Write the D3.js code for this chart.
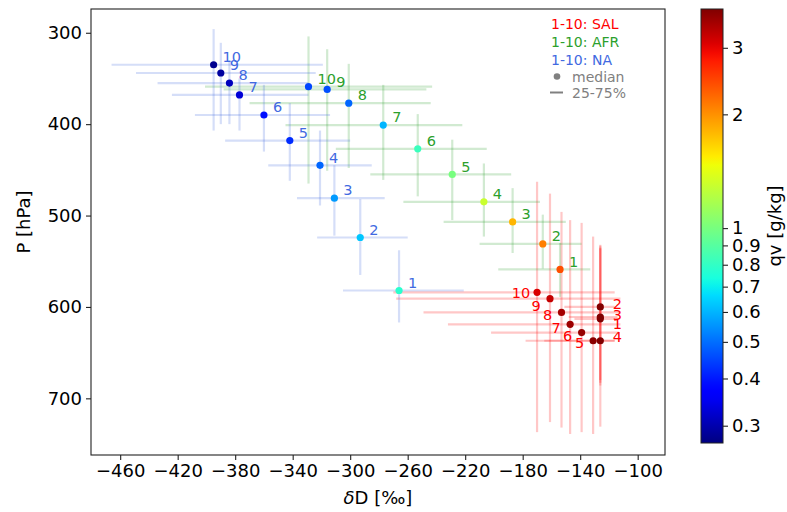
<!DOCTYPE html>
<html>
<head>
<meta charset="UTF-8">
<title>dD vs P</title>
<style>
  body { margin: 0; background: #fff; }
  svg { display: block; font-family: "DejaVu Sans", sans-serif; }
</style>
</head>
<body>
<svg id="chart"></svg>
<script src="https://d3js.org/d3.v7.min.js"></script>
<script>
const width = 787, height = 512;

// levels 1..10 for each region
const levels = [1, 2, 3, 4, 5, 6, 7, 8, 9, 10];

// SAL
const salDD   = [-126, -126, -126, -126, -131, -139, -147, -153, -161, -170];
const salDD25 = [-144, -151, -148, -165, -178, -202, -232, -249, -268, -270];
const salDD75 = [-114, -116, -114, -116, -116, -113, -112, -112, -112, -116];
const salP     = [613, 600, 611, 637, 637, 628, 619, 606, 591, 584];
const salP25   = [536, 533, 535, 532, 523, 508, 505, 496, 476, 463];
const salP75   = [683, 686, 680, 731, 739, 737, 739, 732, 726, 737];
const salQv    = [3.8, 3.78, 3.8, 3.8, 3.7, 3.6, 3.55, 3.5, 3.25, 3.1];

// AFR
const afrDD   = [-154, -166, -187, -207, -229, -253, -277, -301, -316, -329];
const afrDD25 = [-197, -210, -235, -263, -286, -310, -345, -370, -388, -401];
const afrDD75 = [-133, -139, -150, -168, -188, -205, -222, -244, -247, -243];
const afrP     = [559, 531, 507, 485, 455, 427, 401, 377, 362, 359];
const afrP25   = [530, 499, 470, 443, 417, 389, 357, 334, 318, 304];
const afrP75   = [589, 558, 541, 523, 505, 479, 461, 448, 451, 465];
const afrQv    = [2.4, 2.1, 1.8, 1.3, 1.0, 0.82, 0.6, 0.49, 0.46, 0.45];

// NA
const naDD   = [-266, -293, -311, -321, -342, -360, -377, -384, -390, -395];
const naDD25 = [-305, -323, -337, -357, -387, -408, -424, -434, -449, -466];
const naDD75 = [-221, -260, -276, -285, -300, -314, -329, -329, -324, -319];
const naP     = [582, 524, 481, 445, 418, 390, 368, 355, 344, 335];
const naP25   = [538, 482, 445, 407, 377, 357, 350, 330, 311, 296];
const naP75   = [617, 565, 522, 489, 462, 430, 407, 400, 400, 407];
const naQv    = [0.78, 0.63, 0.56, 0.49, 0.42, 0.39, 0.33, 0.31, 0.29, 0.28];

const xTicks = [-460, -420, -380, -340, -300, -260, -220, -180, -140, -100];
const yTicks = [300, 400, 500, 600, 700];
const cbTicks = [0.3, 0.4, 0.5, 0.6, 0.7, 0.8, 0.9, 1, 2, 3];
const legendLabels = ["1-10: SAL", "1-10: AFR", "1-10: NA"];

// label nudges for the crowded SAL cluster (px)
const salLabelNudge = [[17, 5], [17, -3.5], [17, -2], [17, -4], [-13.5, 2],
                       [-14, 3], [-14, 3], [-14, 2.5], [-14, 7], [-16, 0]];

const plot = { left: 91, right: 665, top: 9, bottom: 455 };
const cb = { left: 701, right: 723, top: 9, bottom: 443 };
const fs = 18;

const x = d3.scaleLinear().domain([-480.3, -81]).range([plot.left, plot.right]);
const y = d3.scaleLinear().domain([274, 762]).range([plot.top, plot.bottom]);

// matplotlib jet
const jr = d3.scaleLinear().domain([0, 0.35, 0.66, 0.89, 1]).range([0, 0, 1, 1, 0.5]).clamp(true);
const jg = d3.scaleLinear().domain([0, 0.125, 0.375, 0.64, 0.91, 1]).range([0, 0, 1, 1, 0, 0]).clamp(true);
const jb = d3.scaleLinear().domain([0, 0.11, 0.34, 0.65, 1]).range([0.5, 1, 1, 0, 0]).clamp(true);
const jet = t => d3.rgb(jr(t) * 255, jg(t) * 255, jb(t) * 255).formatHex();
const qvNorm = d3.scaleLog().domain([0.27, 3.8]).range([0, 1]).clamp(true);
const qvColor = v => jet(qvNorm(v));

const svg = d3.select("#chart").attr("width", width).attr("height", height);

// axes frame
const xAxis = d3.axisBottom(x).tickValues(xTicks).tickSize(5).tickPadding(4).tickFormat(d3.format("d"));
const yAxis = d3.axisLeft(y).tickValues(yTicks).tickSize(5).tickPadding(4);

const gx = svg.append("g").attr("transform", `translate(0,${plot.bottom})`).call(xAxis);
const gy = svg.append("g").attr("transform", `translate(${plot.left},0)`).call(yAxis);
[gx, gy].forEach(g => {
  g.select(".domain").remove();
  g.selectAll("text").attr("font-size", fs).attr("font-family", "DejaVu Sans").attr("fill", "#000");
  g.selectAll("line").attr("stroke", "#222").attr("stroke-width", 1.1);
});

svg.append("rect")
  .attr("x", plot.left).attr("y", plot.top)
  .attr("width", plot.right - plot.left).attr("height", plot.bottom - plot.top)
  .attr("fill", "none").attr("stroke", "#222").attr("stroke-width", 1.1);

// axis labels
const xl = svg.append("text")
  .attr("x", (plot.left + plot.right) / 2).attr("y", 504)
  .attr("text-anchor", "middle").attr("font-size", fs);
xl.append("tspan").attr("font-style", "italic").text("δ");
xl.append("tspan").text("D [‰]");

svg.append("text")
  .attr("transform", "translate(30,222) rotate(-90)")
  .attr("text-anchor", "middle").attr("font-size", fs)
  .text("P [hPa]");

// series
const series = [
  { dd: salDD, dd25: salDD25, dd75: salDD75, p: salP, p25: salP25, p75: salP75, qv: salQv, color: "#ff0000", nudge: salLabelNudge },
  { dd: afrDD, dd25: afrDD25, dd75: afrDD75, p: afrP, p25: afrP25, p75: afrP75, qv: afrQv, color: "#2ca02c" },
  { dd: naDD, dd25: naDD25, dd75: naDD75, p: naP, p25: naP25, p75: naP75, qv: naQv, color: "#4169e1" }
];

const plotG = svg.append("g");

series.forEach(s => {
  const g = plotG.append("g");
  levels.forEach((lev, i) => {
    g.append("line")
      .attr("x1", x(s.dd25[i])).attr("x2", x(s.dd75[i]))
      .attr("y1", y(s.p[i])).attr("y2", y(s.p[i]))
      .attr("stroke", s.color).attr("stroke-opacity", 0.22).attr("stroke-width", 2.2);
    g.append("line")
      .attr("x1", x(s.dd[i])).attr("x2", x(s.dd[i]))
      .attr("y1", y(s.p25[i])).attr("y2", y(s.p75[i]))
      .attr("stroke", s.color).attr("stroke-opacity", 0.22).attr("stroke-width", 2.2);
  });
  g.selectAll("circle")
    .data(levels)
    .enter().append("circle")
    .attr("cx", (d, i) => x(s.dd[i]))
    .attr("cy", (d, i) => y(s.p[i]))
    .attr("r", 3.6)
    .attr("fill", (d, i) => qvColor(s.qv[i]));
  g.selectAll("text")
    .data(levels)
    .enter().append("text")
    .attr("x", (d, i) => x(s.dd[i]) + (s.nudge ? s.nudge[i][0] : 9))
    .attr("y", (d, i) => y(s.p[i]) + (s.nudge ? s.nudge[i][1] : -8))
    .attr("dy", "0.36em")
    .attr("text-anchor", s.nudge ? "middle" : "start")
    .attr("font-size", 14.5)
    .attr("fill", s.color)
    .text(d => d);
});

// legend
const legendColors = ["#ff0000", "#2ca02c", "#4169e1"];
legendLabels.forEach((t, i) => {
  svg.append("text")
    .attr("x", 551).attr("y", 29 + i * 18)
    .attr("font-size", 14).attr("fill", legendColors[i])
    .text(t);
});
svg.append("circle").attr("cx", 557).attr("cy", 76.5).attr("r", 3.3).attr("fill", "#808080");
svg.append("text").attr("x", 572).attr("y", 81.5).attr("font-size", 14).attr("fill", "#808080").text("median");
svg.append("line").attr("x1", 550).attr("x2", 563).attr("y1", 92.5).attr("y2", 92.5)
  .attr("stroke", "#808080").attr("stroke-width", 2);
svg.append("text").attr("x", 572).attr("y", 97.5).attr("font-size", 14).attr("fill", "#808080").text("25-75%");

// colorbar
const cbScale = d3.scaleLog().domain([0.27, 3.8]).range([cb.bottom, cb.top]);
const grad = svg.append("defs").append("linearGradient")
  .attr("id", "jetgrad").attr("x1", 0).attr("x2", 0).attr("y1", 1).attr("y2", 0);
d3.range(0, 1.0001, 0.02).forEach(t => {
  grad.append("stop").attr("offset", t).attr("stop-color", jet(t));
});
svg.append("rect")
  .attr("x", cb.left).attr("y", cb.top)
  .attr("width", cb.right - cb.left).attr("height", cb.bottom - cb.top)
  .attr("fill", "url(#jetgrad)").attr("stroke", "#222").attr("stroke-width", 1);

const cbAxis = d3.axisRight(cbScale).tickValues(cbTicks).tickSize(5).tickPadding(4).tickFormat(d3.format("~g"));
const gcb = svg.append("g").attr("transform", `translate(${cb.right},0)`).call(cbAxis);
gcb.select(".domain").remove();
gcb.selectAll("text").attr("font-size", fs).attr("font-family", "DejaVu Sans").attr("fill", "#000");
gcb.selectAll("line").attr("stroke", "#222").attr("stroke-width", 1.1);

svg.append("text")
  .attr("transform", `translate(781,${(cb.top + cb.bottom) / 2}) rotate(-90)`)
  .attr("text-anchor", "middle").attr("font-size", fs)
  .text("qv [g/kg]");
</script>
</body>
</html>
